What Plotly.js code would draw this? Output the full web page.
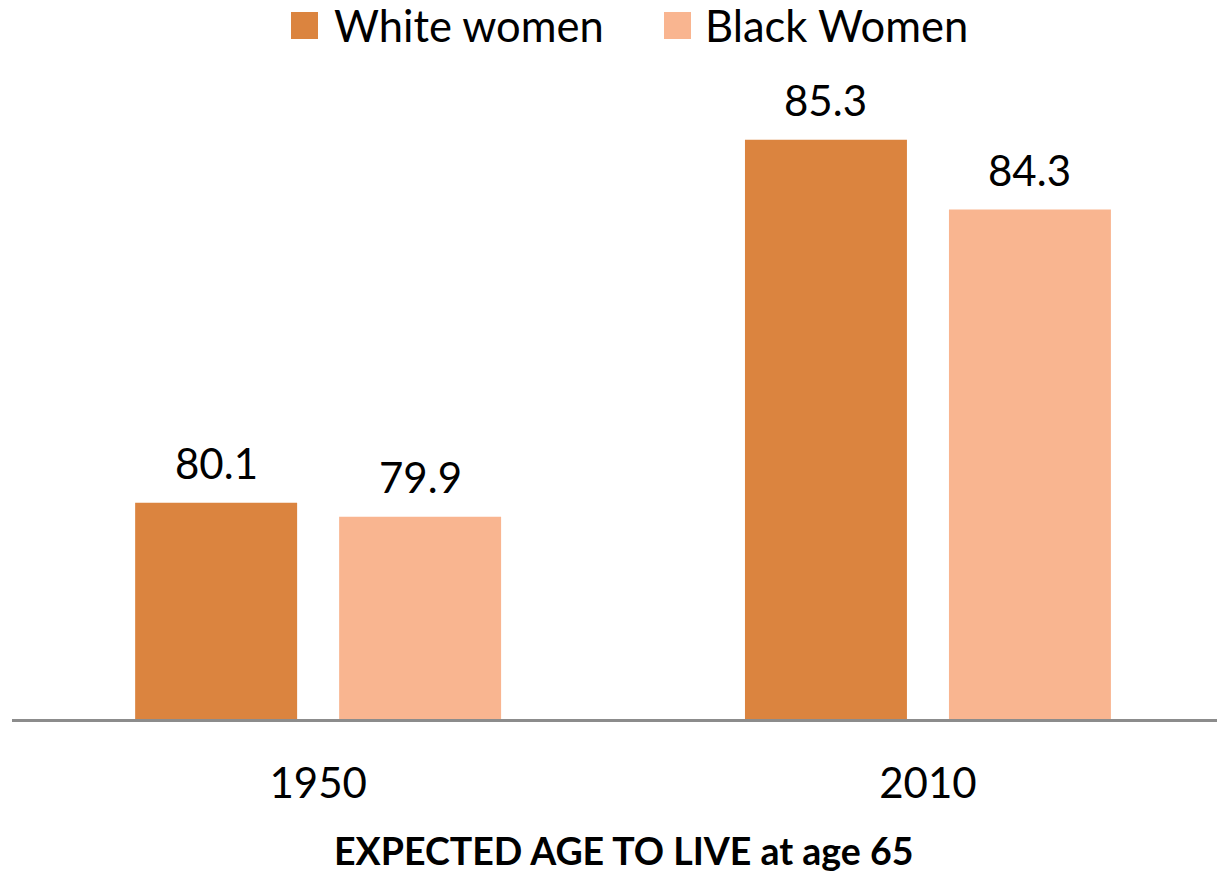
<!DOCTYPE html>
<html>
<head>
<meta charset="utf-8">
<script src="https://cdn.plot.ly/plotly-3.0.1.min.js"></script>
<style>
  html, body { margin: 0; padding: 0; background: #ffffff; }
  #chart { width: 1217px; height: 875px; }
</style>
</head>
<body>
<div id="chart"></div>
<script>
// Life expectancy at age 65, by year and group
const years = ['1950', '2010'];
const seriesNames = ['White women', 'Black Women'];
const whiteWomen = [80.1, 85.3];
const blackWomen = [79.9, 84.3];
const seriesColors = ['#DB843F', '#F9B590'];
const axisTitle = 'EXPECTED AGE TO LIVE at age 65';

const W = 1217, H = 875;
const M = { l: 12, r: 0, t: 91, b: 156 };
const plotW = W - M.l - M.r, plotH = H - M.t - M.b;
const FONT = 'Lato, "Open Sans", sans-serif';

// pixel -> paper helpers for header legend and axis caption
const px = x => (x - M.l) / plotW;
const py = y => (H - M.b - y) / plotH;

const bargap = 0.331;
const bargroupgap = 0.206;
const groupOffset = (1 - bargap) / 4;

const values = [whiteWomen, blackWomen];

const traces = values.map((vals, k) => ({
  type: 'bar',
  name: seriesNames[k],
  x: years,
  y: vals,
  marker: { color: seriesColors[k], line: { width: 0 } },
  showlegend: false,
  hoverinfo: 'x+y+name'
}));

// value labels above each bar
const annotations = [];
values.forEach((vals, k) => {
  vals.forEach((v, i) => {
    annotations.push({
      xref: 'x', yref: 'y',
      x: i + (k === 0 ? -groupOffset : groupOffset),
      y: v,
      text: v.toFixed(1),
      showarrow: false,
      yanchor: 'bottom',
      yshift: 13,
      font: { family: FONT, size: 42, color: '#000000' }
    });
  });
});

// header legend: swatches and names
const legendSpots = [
  { sx0: 291, sx1: 318, tx: 332 },
  { sx0: 664, sx1: 691, tx: 703 }
];
const shapes = [];
legendSpots.forEach((s, k) => {
  shapes.push({
    type: 'rect', xref: 'paper', yref: 'paper',
    x0: px(s.sx0), x1: px(s.sx1), y0: py(39), y1: py(12),
    fillcolor: seriesColors[k], line: { width: 0 }
  });
  annotations.push({
    xref: 'paper', yref: 'paper',
    x: px(s.tx), y: py(25),
    xanchor: 'left', yanchor: 'middle',
    text: seriesNames[k],
    showarrow: false,
    font: { family: FONT, size: 43.5, color: '#000000' }
  });
});

// caption under the category labels
annotations.push({
  xref: 'paper', yref: 'paper',
  x: px(623), y: py(874),
  xanchor: 'center', yanchor: 'bottom',
  text: '<b>' + axisTitle + '</b>',
  showarrow: false,
  borderpad: 0,
  font: { family: FONT, size: 37.5, color: '#000000' }
});

const layout = {
  width: W, height: H,
  margin: M,
  paper_bgcolor: '#ffffff',
  plot_bgcolor: '#ffffff',
  barmode: 'group',
  bargap: bargap,
  bargroupgap: bargroupgap,
  showlegend: false,
  xaxis: {
    type: 'category',
    range: [-0.502, 1.474],
    showline: true,
    linecolor: '#8C8C8C',
    linewidth: 2.5,
    ticks: '',
    showgrid: false,
    zeroline: false,
    ticklabelstandoff: 26,
    tickfont: { family: FONT, size: 42, color: '#000000' },
    automargin: false,
    fixedrange: true
  },
  yaxis: {
    range: [77, 86],
    visible: false,
    showgrid: false,
    zeroline: false,
    fixedrange: true
  },
  shapes: shapes,
  annotations: annotations
};

Plotly.newPlot('chart', traces, layout, { displayModeBar: false, staticPlot: true });
</script>
</body>
</html>
